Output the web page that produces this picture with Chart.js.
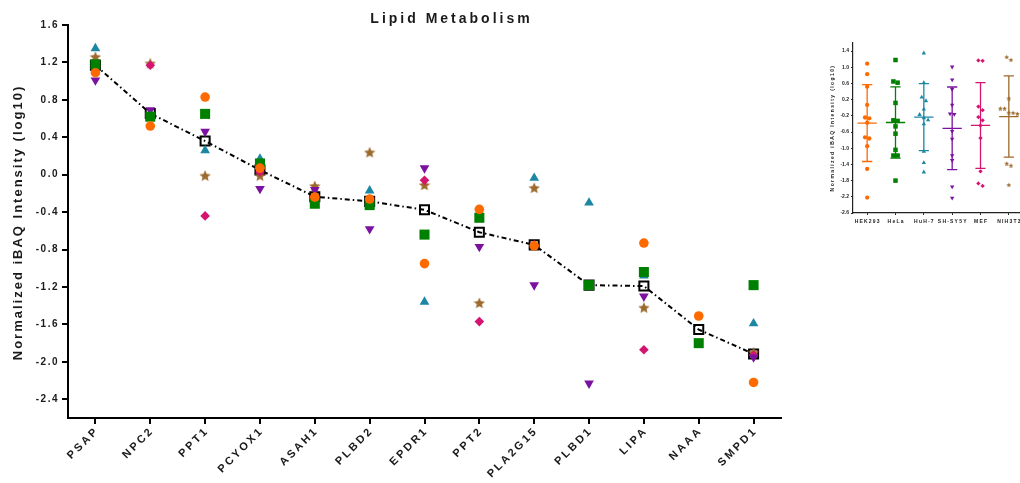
<!DOCTYPE html>
<html>
<head>
<meta charset="utf-8">
<script src="https://cdn.jsdelivr.net/npm/chart.js@4.4.1/dist/chart.umd.min.js"></script>
<style>
  body { margin: 0; background: #fff; overflow: hidden; }
  #wrap { position: relative; width: 1020px; height: 483px; overflow: hidden; }
  #main { position: absolute; left: 0; top: 0; }
  #inset { position: absolute; left: 812px; top: 30px; }
</style>
</head>
<body>
<div id="wrap">
  <canvas id="main" width="800" height="483"></canvas>
  <canvas id="inset" width="215" height="200"></canvas>
</div>
<script>
// genes on the x axis
const genes = ["PSAP", "NPC2", "PPT1", "PCYOX1", "ASAH1", "PLBD2", "EPDR1", "PPT2", "PLA2G15", "PLBD1", "LIPA", "NAAA", "SMPD1"];
const cellLines = ["HEK293", "HeLa", "HuH-7", "SH-SY5Y", "MEF", "NIH3T3"];

// normalized iBAQ intensity (log10), one value per gene, null = not detected
const hek293 = [1.09, 0.52, 0.83, 0.07, -0.24, -0.26, -0.95, -0.37, -0.76, null, -0.73, -1.51, -2.22];
const hela   = [1.18, 0.62, 0.65, 0.12, -0.31, -0.325, -0.64, -0.46, null, -1.18, -1.04, -1.80, -1.18];
const huh7   = [1.35, 0.62, 0.26, 0.17, -0.25, -0.17, -1.36, -0.40, -0.035, -0.30, -1.08, null, -1.59];
const shsy5y = [1.01, 0.69, 0.46, -0.15, -0.16, -0.58, 0.07, -0.77, -1.18, -2.23, -1.30, null, -1.95];
const mef    = [1.16, 1.17, -0.44, 0.03, -0.23, -0.31, -0.06, -1.57, -0.75, null, -1.87, null, -1.93];
const nih3t3 = [1.26, 1.19, -0.01, -0.01, -0.12, 0.24, -0.11, -1.37, -0.14, null, -1.42, null, -1.90];

const yTicks = [1.6, 1.2, 0.8, 0.4, 0.0, -0.4, -0.8, -1.2, -1.6, -2.0, -2.4];
const insetTicks = [1.4, 1.0, 0.6, 0.2, -0.2, -0.6, -1.0, -1.4, -1.8, -2.2, -2.6];

const series = [hek293, hela, huh7, shsy5y, mef, nih3t3];
const colors = ["#ff6a00", "#008000", "#1c87a3", "#7a129f", "#d5146f", "#9b6a2c"];
const FONT = '"Liberation Sans", Arial, sans-serif';
const yTitle = "Normalized iBAQ Intensity (log10)";

function starImage(size, color) {
  const c = document.createElement("canvas");
  c.width = c.height = size;
  const g = c.getContext("2d");
  const r = size / 2, ri = r * 0.45;
  g.beginPath();
  for (let k = 0; k < 10; k++) {
    const a = -Math.PI / 2 + k * Math.PI / 5;
    const rr = k % 2 ? ri : r;
    g.lineTo(r + rr * Math.cos(a), r + 0.5 + rr * Math.sin(a));
  }
  g.closePath();
  g.fillStyle = color;
  g.fill();
  return c;
}

function markerStyle(i, scale) {
  const styles = [
    { pointStyle: "circle", pointRadius: 4.8 },
    { pointStyle: "rect", pointRadius: 7.1 },
    { pointStyle: "triangle", pointRadius: 5.6 },
    { pointStyle: "triangle", pointRadius: 5.6, pointRotation: 180 },
    { pointStyle: "rectRot", pointRadius: 4.8 },
    { pointStyle: starImage(Math.round(12 * scale), colors[5]), pointRadius: 6 }
  ];
  const s = Object.assign({}, styles[i]);
  s.pointRadius *= scale;
  return s;
}

const present = v => v !== null && v !== undefined;
function median(arr) {
  const v = arr.filter(present).sort((a, b) => a - b);
  const m = Math.floor(v.length / 2);
  return v.length % 2 ? v[m] : (v[m - 1] + v[m]) / 2;
}
const medians = genes.map((g, j) => median(series.map(s => s[j])));

// ---------- main chart ----------
const mainText = {
  id: "mainText",
  beforeLayout(chart) { chart.ctx.letterSpacing = "1.5px"; },
  beforeDraw(chart) { chart.ctx.letterSpacing = "1.5px"; },
  afterDraw(chart) {
    const { ctx, scales: { x, y } } = chart;
    ctx.save();
    ctx.fillStyle = "#1a1a1a";
    ctx.font = "bold 14px " + FONT;
    ctx.letterSpacing = "3px";
    ctx.textAlign = "center";
    ctx.textBaseline = "alphabetic";
    ctx.fillText("Lipid Metabolism", 451.5, 23);

    ctx.font = "bold 13px " + FONT;
    ctx.letterSpacing = "2px";
    ctx.save();
    ctx.translate(22, (y.top + y.bottom) / 2 + 1);
    ctx.rotate(-Math.PI / 2);
    ctx.fillText(yTitle, 0, 0);
    ctx.restore();

    ctx.font = "bold 11px " + FONT;
    ctx.letterSpacing = "2.5px";
    ctx.textAlign = "right";
    ctx.textBaseline = "middle";
    genes.forEach((g, i) => {
      const px = x.getPixelForTick(i);
      ctx.save();
      ctx.translate(px + 2, x.top + 11);
      ctx.rotate(-Math.PI / 4);
      ctx.fillText(g, 0, 0);
      ctx.restore();
    });
    ctx.restore();
  }
};

const mainDatasets = series.map((vals, i) => Object.assign({
  label: cellLines[i],
  data: vals,
  showLine: false,
  pointBackgroundColor: colors[i],
  pointBorderWidth: 0,
  order: i
}, markerStyle(i, 1)));

mainDatasets.push({
  label: "median",
  data: medians,
  borderColor: "#000",
  borderWidth: 2,
  borderDash: [5, 3, 1.5, 3],
  tension: 0,
  pointStyle: "rect",
  pointRadius: 6.4,
  pointBorderColor: "#000",
  pointBorderWidth: 2,
  pointBackgroundColor: "rgba(0,0,0,0)",
  order: 10
});

const axisGrid = { display: true, drawOnChartArea: false, drawTicks: true, tickLength: 6, color: "#000", lineWidth: 2, offset: false };

new Chart(document.getElementById("main").getContext("2d"), {
  type: "line",
  data: { labels: genes, datasets: mainDatasets },
  options: {
    responsive: false,
    animation: false,
    layout: { padding: { top: 25, right: 19, left: 0, bottom: 0 } },
    plugins: { legend: { display: false }, tooltip: { enabled: false } },
    scales: {
      x: {
        offset: true,
        grid: axisGrid,
        border: { color: "#000", width: 2 },
        ticks: { display: false },
        afterFit(s) { s.height = 65; }
      },
      y: {
        min: -2.6,
        max: 1.6,
        afterBuildTicks(s) { s.ticks = yTicks.map(v => ({ value: v })); },
        grid: axisGrid,
        border: { color: "#000", width: 2 },
        ticks: {
          color: "#1a1a1a",
          font: { family: FONT, size: 10, weight: "bold" },
          padding: 3,
          callback: v => v.toFixed(1)
        },
        afterFit(s) { s.width = 68; }
      }
    }
  },
  plugins: [mainText]
});

// ---------- inset: per cell line mean +/- SD ----------
function spread(vals) {
  const idx = vals.map((v, k) => k).filter(k => present(vals[k])).sort((a, b) => vals[b] - vals[a]);
  const off = {};
  let group = [];
  const flush = () => {
    group.forEach((k, j) => { off[k] = (j - (group.length - 1) / 2) * 0.15; });
    group = [];
  };
  idx.forEach(k => {
    if (group.length && vals[group[group.length - 1]] - vals[k] > 0.1) flush();
    group.push(k);
  });
  flush();
  return idx.map(k => ({ x: 0, dx: off[k], y: vals[k] }));
}

function stats(vals) {
  const v = vals.filter(present);
  const mean = v.reduce((a, b) => a + b, 0) / v.length;
  const sd = Math.sqrt(v.reduce((a, b) => a + (b - mean) ** 2, 0) / (v.length - 1));
  return { mean, sd };
}

const insetDatasets = series.map((vals, i) => Object.assign({
  label: cellLines[i],
  data: spread(vals).map(p => ({ x: i + p.dx, y: p.y })),
  pointBackgroundColor: colors[i],
  pointBorderWidth: 0
}, markerStyle(i, 0.45)));

const insetDecor = {
  id: "insetDecor",
  beforeDatasetsDraw(chart) {
    const { ctx, scales: { x, y } } = chart;
    ctx.save();
    series.forEach((vals, i) => {
      const { mean, sd } = stats(vals);
      const cx = x.getPixelForValue(i);
      const half = x.getPixelForValue(i + 0.34) - cx;
      const cap = x.getPixelForValue(i + 0.18) - cx;
      const yTop = y.getPixelForValue(mean + sd);
      const yBot = y.getPixelForValue(mean - sd);
      const yMean = y.getPixelForValue(mean);
      ctx.strokeStyle = colors[i];
      ctx.lineWidth = 1.3;
      ctx.beginPath();
      ctx.moveTo(cx, yTop); ctx.lineTo(cx, yBot);
      ctx.moveTo(cx - cap, yTop); ctx.lineTo(cx + cap, yTop);
      ctx.moveTo(cx - cap, yBot); ctx.lineTo(cx + cap, yBot);
      ctx.moveTo(cx - half, yMean); ctx.lineTo(cx + half, yMean);
      ctx.stroke();
    });
    ctx.restore();
  },
  afterDraw(chart) {
    const { ctx, scales: { x, y } } = chart;
    ctx.save();
    ctx.fillStyle = "#222";
    ctx.font = "bold 5px " + FONT;
    ctx.letterSpacing = "1.4px";
    ctx.textAlign = "center";
    ctx.textBaseline = "middle";
    ctx.save();
    ctx.translate(22, (y.top + y.bottom) / 2);
    ctx.rotate(-Math.PI / 2);
    ctx.textBaseline = "alphabetic";
    ctx.fillText(yTitle, 0, 0);
    ctx.restore();

    ctx.letterSpacing = "1.2px";
    cellLines.forEach((c, i) => {
      ctx.fillText(c, x.getPixelForValue(i) + 0.6, x.top + 9);
    });
    ctx.restore();
  }
};

const thinGrid = { display: true, drawOnChartArea: false, drawTicks: true, tickLength: 2, color: "#222", lineWidth: 1 };

new Chart(document.getElementById("inset").getContext("2d"), {
  type: "scatter",
  data: { datasets: insetDatasets },
  options: {
    responsive: false,
    animation: false,
    layout: { padding: { top: 13, right: 4, left: 0, bottom: 0 } },
    plugins: { legend: { display: false }, tooltip: { enabled: false } },
    scales: {
      x: {
        type: "linear",
        min: -0.5,
        max: 5.5,
        afterBuildTicks(s) { s.ticks = cellLines.map((c, i) => ({ value: i })); },
        grid: thinGrid,
        border: { color: "#222", width: 1.2 },
        ticks: { display: false },
        afterFit(s) { s.height = 17; }
      },
      y: {
        min: -2.6,
        max: 1.6,
        afterBuildTicks(s) { s.ticks = insetTicks.map(v => ({ value: v })); },
        grid: thinGrid,
        border: { color: "#222", width: 1.2 },
        ticks: {
          color: "#222",
          font: { family: FONT, size: 5, weight: "bold" },
          padding: 2,
          callback: v => v.toFixed(1)
        },
        afterFit(s) { s.width = 41; }
      }
    }
  },
  plugins: [insetDecor]
});
</script>
</body>
</html>
